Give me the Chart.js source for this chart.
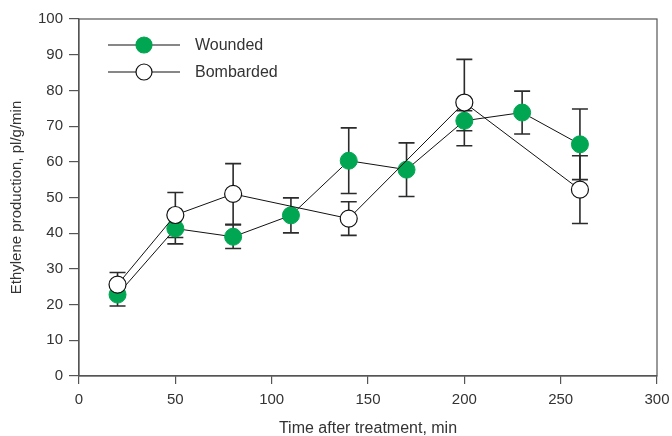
<!DOCTYPE html>
<html>
<head>
<meta charset="utf-8">
<script src="https://cdn.jsdelivr.net/npm/chart.js@4.4.0/dist/chart.umd.min.js"></script>
<style>
  html, body { margin: 0; padding: 0; background: #fff; }
  #wrap { width: 672px; height: 436px; }
</style>
</head>
<body>
<div id="wrap"><canvas id="EthyleneChart" width="672" height="436"></canvas></div>
<script>
// data
var woundedTimes = [20, 50, 80, 110, 140, 170, 200, 230, 260];
var woundedValues = [22.8, 41.3, 39.0, 45.0, 60.3, 57.8, 71.5, 73.8, 64.9];
var woundedErrors = [3.2, 4.3, 3.3, 4.9, 9.2, 7.5, 2.8, 6.0, 9.9];

var bombardedTimes = [20, 50, 80, 140, 200, 260];
var bombardedValues = [25.6, 45.1, 51.0, 44.1, 76.6, 52.2];
var bombardedErrors = [3.4, 6.3, 8.5, 4.7, 12.1, 9.5];

var xTicks = [0, 50, 100, 150, 200, 250, 300];
var yTicks = [0, 10, 20, 30, 40, 50, 60, 70, 80, 90, 100];

var FONT = "'Liberation Sans', Arial, sans-serif";
var TEXT = "#333";

function toPoints(xs, ys) {
  return xs.map(function (x, i) { return { x: x, y: ys[i] }; });
}

// error bars, drawn under the markers
var errorBars = {
  id: "errorBars",
  beforeDatasetsDraw: function (chart) {
    var ctx = chart.ctx;
    var xs = chart.scales.x, ys = chart.scales.y;
    ctx.save();
    ctx.strokeStyle = "#2b2b2b";
    ctx.lineWidth = 1.6;
    chart.data.datasets.forEach(function (ds) {
      ds.data.forEach(function (p, i) {
        var e = ds.errors[i];
        var px = xs.getPixelForValue(p.x);
        var top = ys.getPixelForValue(p.y + e);
        var bot = ys.getPixelForValue(p.y - e);
        ctx.beginPath();
        ctx.moveTo(px, top); ctx.lineTo(px, bot);
        ctx.moveTo(px - 8, top); ctx.lineTo(px + 8, top);
        ctx.moveTo(px - 8, bot); ctx.lineTo(px + 8, bot);
        ctx.stroke();
      });
    });
    ctx.restore();
  }
};

// frame round the plot and the small legend in the corner
var frameAndLegend = {
  id: "frameAndLegend",
  afterDraw: function (chart) {
    var ctx = chart.ctx, a = chart.chartArea;
    ctx.save();
    ctx.strokeStyle = "#555";
    ctx.lineWidth = 1.2;
    ctx.strokeRect(a.left, a.top, a.right - a.left, a.bottom - a.top);

    var rows = [
      { label: "Wounded", fill: "#00a651", border: "#00a651", y: 45 },
      { label: "Bombarded", fill: "#fff", border: "#111", y: 72 }
    ];
    rows.forEach(function (r) {
      ctx.strokeStyle = "#111";
      ctx.lineWidth = 1.2;
      ctx.beginPath();
      ctx.moveTo(108, r.y); ctx.lineTo(180, r.y);
      ctx.stroke();
      ctx.beginPath();
      ctx.arc(144, r.y, 8, 0, Math.PI * 2);
      ctx.fillStyle = r.fill;
      ctx.fill();
      ctx.strokeStyle = r.border;
      ctx.stroke();
      ctx.fillStyle = TEXT;
      ctx.font = "16px " + FONT;
      ctx.textBaseline = "middle";
      ctx.fillText(r.label, 195, r.y + 1);
    });
    ctx.restore();
  }
};

var ctx = document.getElementById("EthyleneChart").getContext("2d");
var chart = new Chart(ctx, {
  type: "line",
  data: {
    datasets: [
      {
        label: "Wounded",
        data: toPoints(woundedTimes, woundedValues),
        errors: woundedErrors,
        borderColor: "#111",
        borderWidth: 1,
        pointRadius: 8.5,
        pointBackgroundColor: "#00a651",
        pointBorderColor: "#00a651",
        pointBorderWidth: 1,
        order: 2
      },
      {
        label: "Bombarded",
        data: toPoints(bombardedTimes, bombardedValues),
        errors: bombardedErrors,
        borderColor: "#111",
        borderWidth: 1,
        pointRadius: 8.5,
        pointBackgroundColor: "#fff",
        pointBorderColor: "#111",
        pointBorderWidth: 1.2,
        order: 1
      }
    ]
  },
  options: {
    responsive: false,
    animation: false,
    layout: { padding: { left: 4, right: 15, top: 19, bottom: 0 } },
    plugins: {
      legend: { display: false },
      tooltip: { enabled: false }
    },
    scales: {
      x: {
        type: "linear",
        min: 0,
        max: 300,
        afterBuildTicks: function (s) { s.ticks = xTicks.map(function (v) { return { value: v }; }); },
        afterFit: function (s) { s.height = 60; s.paddingLeft = 0; s.paddingRight = 0; },
        grid: { drawOnChartArea: false, tickLength: 8, color: "#555", lineWidth: 1.2 },
        border: { color: "#555", width: 1.2 },
        ticks: { color: TEXT, font: { family: FONT, size: 15 }, padding: 7, maxRotation: 0 },
        title: { display: true, text: "Time after treatment, min", color: TEXT,
                 font: { family: FONT, size: 16 }, padding: { top: 10, bottom: -2 } }
      },
      y: {
        min: 0,
        max: 100,
        afterBuildTicks: function (s) { s.ticks = yTicks.map(function (v) { return { value: v }; }); },
        afterFit: function (s) { s.width = 75; s.paddingTop = 0; s.paddingBottom = 0; },
        grid: { drawOnChartArea: false, tickLength: 10, color: "#555", lineWidth: 1.2 },
        border: { color: "#555", width: 1.2 },
        ticks: { color: TEXT, font: { family: FONT, size: 15 }, padding: 6 },
        title: { display: true, text: "Ethylene production, pl/g/min", color: TEXT,
                 font: { family: FONT, size: 15 }, padding: { bottom: 4 } }
      }
    }
  },
  plugins: [errorBars, frameAndLegend]
});
</script>
</body>
</html>
